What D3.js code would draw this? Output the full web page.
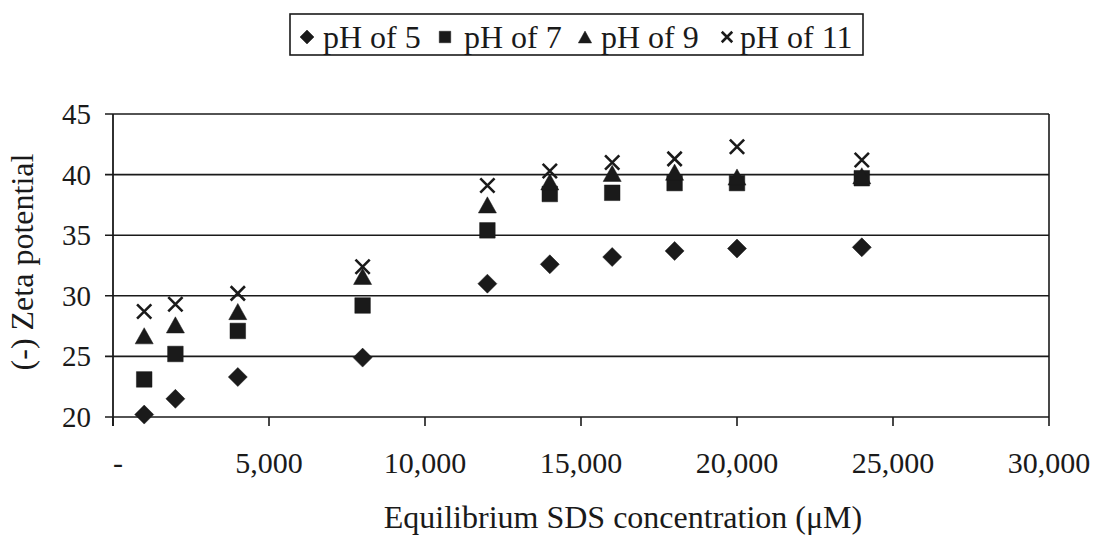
<!DOCTYPE html>
<html>
<head>
<meta charset="utf-8">
<script src="https://cdn.jsdelivr.net/npm/d3@7"></script>
</head>
<body style="margin:0">
<svg id="chart" width="1097" height="537"></svg>
<script>
// ---- data ----
const concentrations = [1000, 2000, 4000, 8000, 12000, 14000, 16000, 18000, 20000, 24000];
const pH5  = [20.2, 21.5, 23.3, 24.9, 31.0, 32.6, 33.2, 33.7, 33.9, 34.0];
const pH7  = [23.1, 25.2, 27.1, 29.2, 35.4, 38.4, 38.5, 39.3, 39.3, 39.7];
const pH9  = [26.7, 27.6, 28.7, 31.6, 37.5, 39.4, 40.1, 40.2, 39.8, 39.9];
const pH11 = [28.7, 29.3, 30.2, 32.4, 39.1, 40.3, 41.0, 41.3, 42.3, 41.2];
const seriesNames = ["pH of 5", "pH of 7", "pH of 9", "pH of 11"];
const xTicks = [0, 5000, 10000, 15000, 20000, 25000, 30000];
const yTicks = [20, 25, 30, 35, 40, 45];
const xTitle = "Equilibrium SDS concentration (\u03BCM)";
const yTitle = "(-) Zeta potential";

const seriesValues = [pH5, pH7, pH9, pH11];
const shapes = ["diamond", "square", "triangle", "cross"];

const FONT = '"Liberation Serif"';
const svg = d3.select("#chart");
svg.append("rect").attr("width", 1097).attr("height", 537).attr("fill", "#ffffff");
const ink = "#1a1a1a";

const x = d3.scaleLinear().domain([0, 30000]).range([113, 1049]);
const y = d3.scaleLinear().domain([20, 45]).range([417, 114]);

function shapePath(kind, s) {
  const p = d3.path();
  if (kind === "diamond") {
    p.moveTo(0, -s); p.lineTo(s, 0); p.lineTo(0, s); p.lineTo(-s, 0); p.closePath();
  } else if (kind === "square") {
    const h = s * 0.82;
    p.rect(-h, -h, 2 * h, 2 * h);
  } else if (kind === "triangle") {
    const w = s * 0.95, h = s * 0.85;
    p.moveTo(0, -h); p.lineTo(w, h); p.lineTo(-w, h); p.closePath();
  } else {
    const h = s * 0.75;
    p.moveTo(-h, -h); p.lineTo(h, h); p.moveTo(h, -h); p.lineTo(-h, h);
  }
  return p.toString();
}
function drawShape(g, kind, cx, cy, s) {
  const isCross = kind === "cross";
  g.append("path")
    .attr("transform", `translate(${cx},${cy})`)
    .attr("d", shapePath(kind, s))
    .attr("fill", isCross ? "none" : ink)
    .attr("stroke", ink)
    .attr("stroke-width", isCross ? 2.6 : 0.5);
}

// gridlines
svg.append("g").selectAll("line").data(yTicks).enter().append("line")
  .attr("x1", x(0) - 8).attr("x2", x(30000))
  .attr("y1", d => y(d)).attr("y2", d => y(d))
  .attr("stroke", ink).attr("stroke-width", 1.6);

// plot border right
svg.append("line")
  .attr("x1", x(30000)).attr("x2", x(30000))
  .attr("y1", y(45)).attr("y2", y(20))
  .attr("stroke", ink).attr("stroke-width", 1.6);

// y axis line
svg.append("line")
  .attr("x1", x(0)).attr("x2", x(0))
  .attr("y1", y(45)).attr("y2", y(20) + 9)
  .attr("stroke", ink).attr("stroke-width", 1.8);

// x ticks
svg.append("g").selectAll("line").data(xTicks).enter().append("line")
  .attr("x1", d => x(d)).attr("x2", d => x(d))
  .attr("y1", y(20)).attr("y2", y(20) + 9)
  .attr("stroke", ink).attr("stroke-width", 1.6);

// y tick labels
svg.append("g").selectAll("text").data(yTicks).enter().append("text")
  .style("font-family", FONT)
  .attr("fill", ink)
  .attr("x", 91).attr("y", d => y(d) + 10)
  .attr("text-anchor", "end")
  .attr("font-size", 29)
  .text(d => d);

// x tick labels
const fmt = d3.format(",");
svg.append("g").selectAll("text").data(xTicks).enter().append("text")
  .style("font-family", FONT)
  .attr("fill", ink)
  .attr("x", d => x(d) + (d === 0 ? 5 : 0)).attr("y", 473)
  .attr("text-anchor", "middle")
  .attr("font-size", 30)
  .text(d => d === 0 ? "-" : fmt(d));

// axis titles
svg.append("text")
  .style("font-family", FONT)
  .attr("fill", ink)
  .attr("x", 623).attr("y", 528)
  .attr("text-anchor", "middle")
  .attr("font-size", 32)
  .text(xTitle);
svg.append("text")
  .style("font-family", FONT)
  .attr("fill", ink)
  .attr("transform", "translate(33,262) rotate(-90)")
  .attr("text-anchor", "middle")
  .attr("font-size", 32)
  .text(yTitle);

// markers
const markerSize = 9.5;
seriesValues.forEach((vals, si) => {
  const g = svg.append("g");
  vals.forEach((v, i) => drawShape(g, shapes[si], x(concentrations[i]), y(v), markerSize));
});

// legend
const lg = svg.append("g");
lg.append("rect").attr("x", 290).attr("y", 14).attr("width", 573).attr("height", 41)
  .attr("fill", "#fff").attr("stroke", ink).attr("stroke-width", 1.6);
const legendMarkerX = [307, 445, 585, 727];
const legendTextX = [323, 464, 601, 740];
seriesNames.forEach((name, i) => {
  drawShape(lg, shapes[i], legendMarkerX[i], 37, 7);
  lg.append("text")
    .style("font-family", FONT)
    .attr("fill", ink)
    .attr("x", legendTextX[i]).attr("y", 48)
    .attr("font-size", 32).text(name);
});
</script>
</body>
</html>
